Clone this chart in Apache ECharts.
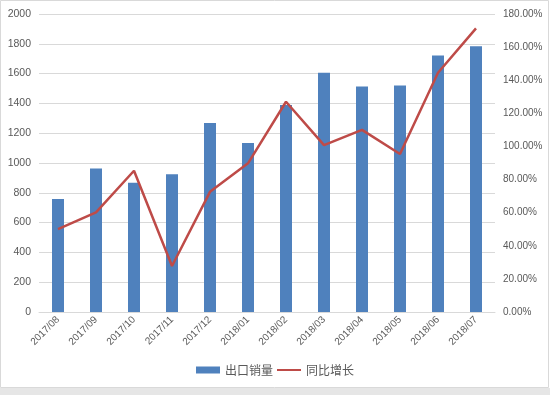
<!DOCTYPE html>
<html><head><meta charset="utf-8">
<script src="https://cdn.jsdelivr.net/npm/echarts@6/dist/echarts.min.js"></script>
<style>html,body{margin:0;padding:0;background:#fff}#c{width:550px;height:395px}</style>
</head><body><div id="c"></div>
<script>
var categories = ['2017/08','2017/09','2017/10','2017/11','2017/12','2018/01','2018/02','2018/03','2018/04','2018/05','2018/06','2018/07'];
var exportSales = [758, 963, 868, 924, 1268, 1134, 1390, 1606, 1514, 1520, 1721, 1783];
var yoyGrowth = [50.0, 60.2, 85.3, 27.8, 72.6, 89.8, 127.0, 100.8, 110.0, 95.4, 144.5, 171.3];
var seriesNames = ['出口销量', '同比增长'];

var chart = echarts.init(document.getElementById('c'));
var txt = '#595959';
var fnt = 'Liberation Sans';
chart.setOption({
  animation: false,
  backgroundColor: '#fff',
  graphic: [
    {type:'rect', shape:{x:0,y:388,width:550,height:7}, style:{fill:'#e6e6e6'}, silent:true, z:-1},
    {type:'rect', shape:{x:0.5,y:0.5,width:548,height:387}, style:{fill:'none',stroke:'#d9d9d9',lineWidth:1}, silent:true, z:-1}
  ],
  grid: {left: 39, right: 55, top: 14, bottom: 83},
  legend: {
    bottom: 14, left: 'center', itemWidth: 24, itemHeight: 7, itemGap: 4,
    textStyle: {color: txt, fontSize: 12, fontFamily: 'Noto Sans CJK SC'},
    data: [
      {name: seriesNames[0], icon: 'rect'},
      {name: seriesNames[1], icon: 'path://M0,2.6h24v2h-24z M0,0h0.01v7h-0.01z'}
    ]
  },
  xAxis: {
    type: 'category', data: categories,
    axisLine: {lineStyle: {color: '#d9d9d9'}},
    axisTick: {show: false},
    axisLabel: {rotate: 45, color: txt, fontSize: 10, margin: 6, interval: 0, fontFamily: fnt}
  },
  yAxis: [
    {type: 'value', min: 0, max: 2000, interval: 200,
     axisLine: {show: false}, axisTick: {show: false},
     splitLine: {lineStyle: {color: '#d9d9d9'}},
     axisLabel: {color: txt, fontSize: 10.5, margin: 8, fontFamily: fnt,
       formatter: function(v){ return String(v); }}},
    {type: 'value', min: 0, max: 180, interval: 20,
     axisLine: {show: false}, axisTick: {show: false}, splitLine: {show: false},
     axisLabel: {color: txt, fontSize: 10, margin: 8, fontFamily: fnt,
       formatter: function(v){ return v.toFixed(2) + '%'; }}}
  ],
  series: [
    {name: seriesNames[0], type: 'bar', data: exportSales, barWidth: 12,
     itemStyle: {color: '#4f81bd'}},
    {name: seriesNames[1], type: 'line', yAxisIndex: 1, data: yoyGrowth,
     symbol: 'none', lineStyle: {color: '#be4b48', width: 2.5}, itemStyle: {color: '#be4b48'}}
  ]
});
</script></body></html>
